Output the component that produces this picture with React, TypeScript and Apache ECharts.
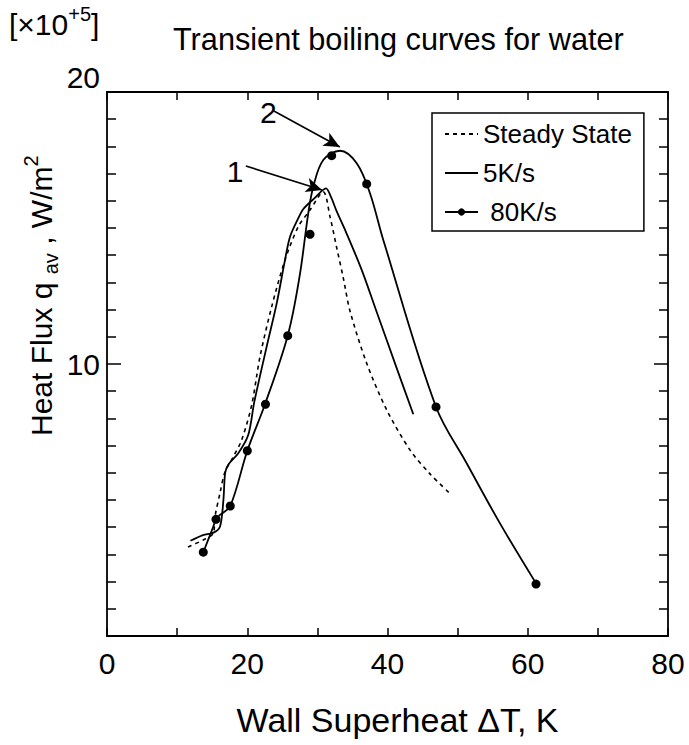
import React, { useEffect, useRef } from 'react';
import * as echarts from 'echarts';

const FONT = '"Liberation Sans", Arial, Helvetica, sans-serif';

// Axis ranges / ticks
const xRange = [0, 80];
const yRange = [0, 20];
const xLabelValues = [0, 20, 40, 60, 80];
const yLabelValues = [10, 20];

// Series names
const seriesNames = ['Steady State', '5K/s', '80K/s'];

// Steady state boiling curve [ΔT (K), q (×10^5 W/m²)]
const steadyState: number[][] = [
  [11.55, 3.27], [13.73, 3.53], [15.16, 3.78], [15.4, 4.39], [16.11, 5.25],
  [16.83, 6.04], [18.01, 6.59], [19.21, 7.21], [20.63, 8.49], [21.82, 10.27],
  [23.49, 12.11], [25.38, 13.82], [27.28, 15.05], [28.95, 15.66], [30.84, 16.33],
  [31.8, 15.42], [32.76, 14.27], [33.7, 13.16], [34.65, 11.95], [37.03, 10.03],
  [39.89, 8.31], [43.21, 6.84], [46.06, 5.96], [49.15, 5.18],
];

// Transient 5 K/s curve
const rate5: number[][] = [
  [11.9, 3.5], [13.69, 3.71], [15.12, 3.79], [16.11, 4.02], [16.6, 5.0],
  [16.85, 6.0], [17.3, 6.3], [18.72, 6.72], [20.15, 7.4], [21.0, 8.6],
  [22.77, 10.64], [24.2, 12.23], [25.38, 13.82], [26.1, 14.68], [27.28, 15.36],
  [28.0, 15.7], [29.6, 16.1], [31.23, 16.46], [31.94, 16.14], [32.79, 15.59],
  [34.08, 14.85], [36.32, 13.46], [38.46, 11.91], [41.31, 9.85], [43.68, 8.15],
];

// Transient 80 K/s fitted curve
const rate80Curve: number[][] = [
  [13.73, 3.08], [15.16, 4.02], [15.54, 4.29], [16.11, 4.45], [17.58, 4.78],
  [20.01, 6.81], [22.53, 8.52], [25.77, 11.04], [27.45, 13.2], [28.7, 15.54],
  [29.42, 16.52], [30.84, 17.5], [33.23, 17.84], [35.61, 17.38], [37.5, 16.28],
  [39.4, 14.56], [46.92, 8.42], [51.29, 6.35], [56.04, 4.14], [61.03, 2.0],
];

// Transient 80 K/s measured points
const rate80Dots: number[][] = [
  [13.73, 3.08], [15.54, 4.29], [17.58, 4.78], [20.01, 6.81], [22.6, 8.52],
  [25.77, 11.04], [28.95, 14.77], [32.04, 17.66], [37.03, 16.62], [46.92, 8.42],
  [61.18, 1.91],
];

// Annotation arrows (data coordinates)
const arrowLabels = ['1', '2'];
const arrowStarts: number[][] = [[19.8, 17.28], [23.8, 19.3]];
const arrowEnds: number[][] = [[30.66, 16.4], [33.2, 17.98]];
const arrowLabelPos: number[][] = [[18.25, 17.06], [23.0, 19.26]];

export default function App() {
  const ref = useRef<HTMLDivElement>(null);

  useEffect(() => {
    if (!ref.current) return;
    const chart = echarts.init(ref.current, undefined, { renderer: 'svg' });

    const black = '#000';
    const axisLine = { show: true, onZero: false, lineStyle: { color: black, width: 1.8 } };

    const option: any = {
      animation: false,
      backgroundColor: '#fff',
      textStyle: { fontFamily: FONT, color: black },
      title: {
        text: 'Transient boiling curves for water',
        left: 168,
        top: 19,
        textStyle: { fontFamily: FONT, fontSize: 30.7, fontWeight: 'normal', color: black },
      },
      graphic: [
        {
          type: 'text',
          left: 9,
          top: 4,
          style: {
            text: '{a|[×10}{b|+5}{a|]}',
            fontFamily: FONT,
            fill: black,
            rich: {
              a: { fontSize: 30, lineHeight: 40, verticalAlign: 'middle', fontFamily: FONT, fill: black },
              b: { fontSize: 20, lineHeight: 20, verticalAlign: 'top', fontFamily: FONT, fill: black },
            },
          },
        },
        {
          type: 'text',
          x: 41,
          y: 436,
          rotation: Math.PI / 2,
          style: {
            text: '{a|Heat Flux q }{b|av}{a| , W/m}{c|2}',
            fontFamily: FONT,
            fill: black,
            align: 'left',
            verticalAlign: 'middle',
            rich: {
              a: { fontSize: 30, lineHeight: 40, verticalAlign: 'middle', fontFamily: FONT, fill: black },
              b: { fontSize: 20, lineHeight: 20, verticalAlign: 'bottom', fontFamily: FONT, fill: black },
              c: { fontSize: 20, lineHeight: 20, verticalAlign: 'top', fontFamily: FONT, fill: black },
            },
          },
        },
      ],
      legend: {
        data: [
          { name: seriesNames[0], itemStyle: { opacity: 0 } },
          { name: seriesNames[1], itemStyle: { opacity: 0 } },
          { name: seriesNames[2] },
        ],
        orient: 'vertical',
        left: 432,
        top: 113,
        padding: [6, 12, 4, 12],
        itemGap: 9,
        itemWidth: 33,
        itemHeight: 9,
        borderColor: black,
        borderWidth: 1.5,
        backgroundColor: '#fff',
        formatter: (n: string) => (n === '80K/s' ? ' ' + n : n),
        textStyle: { fontFamily: FONT, fontSize: 26, color: black, lineHeight: 30 },
      },
      grid: { left: 107, right: 21, top: 92, bottom: 109, containLabel: false },
      xAxis: [
        {
          type: 'value',
          min: xRange[0],
          max: xRange[1],
          interval: 10,
          position: 'bottom',
          axisLine,
          axisTick: { show: true, inside: true, length: 8, lineStyle: { color: black, width: 1.5 } },
          axisLabel: {
            show: true,
            margin: 12,
            fontSize: 30,
            fontFamily: FONT,
            color: black,
            formatter: (v: number) => (xLabelValues.includes(v) ? String(v) : ''),
          },
          splitLine: { show: false },
          name: 'Wall Superheat ΔT, K',
          nameLocation: 'middle',
          nameGap: 67,
          nameTextStyle: { fontFamily: FONT, fontSize: 34, color: black, padding: [0, 0, 0, 20] },
        },
        {
          type: 'value',
          min: xRange[0],
          max: xRange[1],
          interval: 10,
          position: 'top',
          axisLine,
          axisTick: { show: true, inside: true, length: 8, lineStyle: { color: black, width: 1.5 } },
          axisLabel: { show: false },
          splitLine: { show: false },
        },
      ],
      yAxis: [
        {
          type: 'value',
          min: yRange[0],
          max: yRange[1],
          interval: 10,
          position: 'left',
          axisLine,
          axisTick: { show: true, inside: true, length: 14, lineStyle: { color: black, width: 1.5 } },
          minorTick: { show: true, splitNumber: 10, length: 9, lineStyle: { color: black, width: 1.5 } },
          axisLabel: {
            show: true,
            margin: 7,
            fontSize: 30,
            fontFamily: FONT,
            color: black,
            formatter: (v: number) =>
              yLabelValues.includes(v) ? (v === yRange[1] ? '{hi|' + v + '}' : '{n|' + v + '}') : '',
            rich: {
              hi: { fontSize: 30, fontFamily: FONT, color: black, padding: [0, 0, 30, 0] },
              n: { fontSize: 30, fontFamily: FONT, color: black },
            },
          },
          splitLine: { show: false },
        },
        {
          type: 'value',
          min: yRange[0],
          max: yRange[1],
          interval: 10,
          position: 'right',
          axisLine,
          axisTick: { show: true, inside: true, length: 14, lineStyle: { color: black, width: 1.5 } },
          minorTick: { show: true, splitNumber: 10, length: 9, lineStyle: { color: black, width: 1.5 } },
          axisLabel: { show: false },
          splitLine: { show: false },
        },
      ],
      series: [
        {
          name: seriesNames[0],
          type: 'line',
          data: steadyState,
          smooth: 0.3,
          symbol: 'none',
          lineStyle: { color: black, width: 1.6, type: [4, 4] },
          itemStyle: { color: black },
          markLine: {
            silent: true,
            symbol: ['none', 'arrow'],
            symbolSize: [11, 16],
            lineStyle: { color: black, width: 1.6, type: 'solid' },
            label: { show: false },
            data: arrowStarts.map((s, i) => [{ coord: s }, { coord: arrowEnds[i] }]),
          },
          markPoint: {
            silent: true,
            symbol: 'circle',
            symbolSize: 1,
            itemStyle: { color: 'rgba(0,0,0,0)' },
            label: { show: true, position: 'inside', fontSize: 30, fontFamily: FONT, color: black, formatter: '{b}' },
            data: arrowLabelPos.map((p, i) => ({ coord: p, name: arrowLabels[i] })),
          },
        },
        {
          name: seriesNames[1],
          type: 'line',
          data: rate5,
          smooth: 0.3,
          symbol: 'none',
          lineStyle: { color: black, width: 1.8 },
          itemStyle: { color: black },
        },
        {
          name: seriesNames[2],
          type: 'line',
          data: rate80Curve,
          smooth: 0.35,
          symbol: 'circle',
          showSymbol: false,
          symbolSize: 8,
          lineStyle: { color: black, width: 1.8 },
          itemStyle: { color: black },
        },
        {
          name: seriesNames[2],
          type: 'scatter',
          data: rate80Dots,
          symbol: 'circle',
          symbolSize: 9,
          itemStyle: { color: black, opacity: 1 },
        },
      ],
    };

    chart.setOption(option);
    return () => chart.dispose();
  }, []);

  return (
    <div
      ref={ref}
      style={{ position: 'fixed', left: 0, top: 0, width: 689, height: 745, background: '#fff' }}
    />
  );
}
